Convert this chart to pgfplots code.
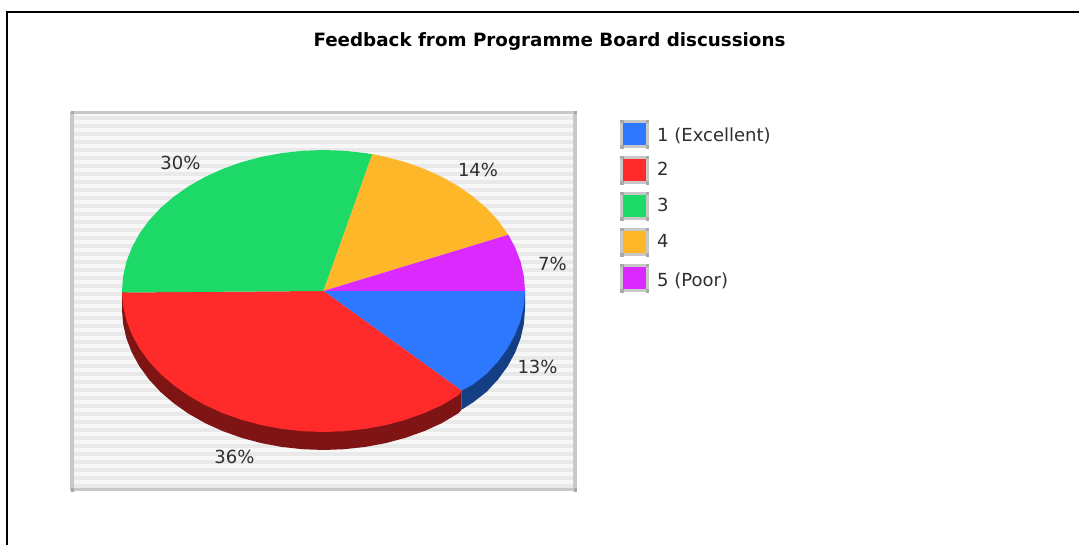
\documentclass[border=0pt]{standalone}
\usepackage{fontspec}
\setmainfont{DejaVu Sans}
\usepackage{pgfplots}
\pgfplotsset{compat=1.18}
\definecolor{cblue}{HTML}{2E78FF}
\definecolor{cred}{HTML}{FF2A2A}
\definecolor{cgreen}{HTML}{1DD968}
\definecolor{corange}{HTML}{FFB72A}
\definecolor{cmag}{HTML}{DA2AFF}
\definecolor{dblue}{HTML}{143F85}
\definecolor{dred}{HTML}{7E1414}
\definecolor{frameg}{HTML}{C8C8C8}
\definecolor{cornerg}{HTML}{A8A8A8}
\definecolor{stripe}{HTML}{E9E9E9}
\definecolor{bgs}{HTML}{F7F7F7}
\begin{document}
\begin{tikzpicture}
\path[use as bounding box] (0,0) rectangle (1079pt,545pt);
\begin{axis}[
  at={(0,0)},anchor=south west,
  width=1079pt,height=545pt,scale only axis,
  xmin=0,xmax=1079,ymin=0,ymax=545,y dir=reverse,
  axis lines=none,clip=true,unbounded coords=jump,
  every axis plot/.append style={line join=miter},
]
% page frame
\addplot[black,line width=2.2pt] coordinates {(7,545) (7,12) (1079,12)};
% plot background
\addplot[draw=none,fill=bgs] coordinates {(72,112) (575,112) (575,490) (72,490)} --cycle;
\addplot[stripe,line width=3.8pt] coordinates {
(72,118)(575,118)(72,nan)(72,126)(575,126)(72,nan)(72,134)(575,134)(72,nan)(72,142)(575,142)(72,nan)
(72,150)(575,150)(72,nan)(72,158)(575,158)(72,nan)(72,166)(575,166)(72,nan)(72,174)(575,174)(72,nan)
(72,182)(575,182)(72,nan)(72,190)(575,190)(72,nan)(72,198)(575,198)(72,nan)(72,206)(575,206)(72,nan)
(72,214)(575,214)(72,nan)(72,222)(575,222)(72,nan)(72,230)(575,230)(72,nan)(72,238)(575,238)(72,nan)
(72,246)(575,246)(72,nan)(72,254)(575,254)(72,nan)(72,262)(575,262)(72,nan)(72,270)(575,270)(72,nan)
(72,278)(575,278)(72,nan)(72,286)(575,286)(72,nan)(72,294)(575,294)(72,nan)(72,302)(575,302)(72,nan)
(72,310)(575,310)(72,nan)(72,318)(575,318)(72,nan)(72,326)(575,326)(72,nan)(72,334)(575,334)(72,nan)
(72,342)(575,342)(72,nan)(72,350)(575,350)(72,nan)(72,358)(575,358)(72,nan)(72,366)(575,366)(72,nan)
(72,374)(575,374)(72,nan)(72,382)(575,382)(72,nan)(72,390)(575,390)(72,nan)(72,398)(575,398)(72,nan)
(72,406)(575,406)(72,nan)(72,414)(575,414)(72,nan)(72,422)(575,422)(72,nan)(72,430)(575,430)(72,nan)
(72,438)(575,438)(72,nan)(72,446)(575,446)(72,nan)(72,454)(575,454)(72,nan)(72,462)(575,462)(72,nan)
(72,470)(575,470)(72,nan)(72,478)(575,478)(72,nan)(72,486)(575,486)};
\addplot[frameg,line width=3.3pt] coordinates {(72,112.5) (575,112.5) (575,489.5) (72,489.5) (72,112.5)};
\addplot[only marks,mark=square*,mark size=1.2pt,cornerg] coordinates {(72,112.5)(575,112.5)(575,489.5)(72,489.5)};
% pie sides (rim shifted by depth)
\addplot[draw=none,fill=dblue] coordinates {(525,291)(525,309)(523.9,323.7)(520.6,338.3)(515.1,352.6)(507.6,366.3)(498,379.5)(486.5,391.9)(473.2,402.3)(461.7,409.6)(461.7,390.6)} --cycle;
\addplot[draw=none,fill=dred] coordinates {(461.7,390.6)(461.7,409.6)(458.3,413.3)(441.9,423.1)(424.25,431.1)(405.5,437.8)(385.8,443.1)(365.4,446.9)(344.6,449.2)(323.5,450)(302.4,449.2)(281.6,446.9)(261.2,443.1)(241.5,437.8)(222.75,431.1)(205.1,423.1)(188.7,413.8)(173.8,403.3)(160.5,391.9)(149,379.5)(139.4,366.3)(131.9,352.6)(126.4,338.3)(123.1,323.7)(122,310)(122,291)} --cycle;
% pie top
\addplot[draw=none,fill=cblue] coordinates {(323.5,291)(525,291)(523.9,305.7)(520.6,320.3)(515.1,334.6)(507.6,348.3)(498,361.5)(486.5,373.9)(473.2,384.3)(461.7,390.6)} --cycle;
\addplot[draw=none,fill=cred] coordinates {(323.5,291)(461.7,390.6)(458.3,395.3)(441.9,405.1)(424.25,413.1)(405.5,419.8)(385.8,425.1)(365.4,428.9)(344.6,431.2)(323.5,432)(302.4,431.2)(281.6,428.9)(261.2,425.1)(241.5,419.8)(222.75,413.1)(205.1,405.1)(188.7,395.8)(173.8,385.3)(160.5,373.9)(149,361.5)(139.4,348.3)(131.9,334.6)(126.4,320.3)(123.1,305.7)(122,292.5)} --cycle;
\addplot[draw=none,fill=cgreen] coordinates {(323.5,291)(122,292.5)(122,291)(123.1,276.3)(126.4,261.7)(131.9,247.4)(139.4,233.7)(149,220.5)(160.5,208.1)(173.8,196.7)(188.7,186.2)(205.1,176.9)(222.75,168.9)(241.5,162.2)(261.2,156.9)(281.6,153.1)(302.4,150.8)(323.5,150)(344.6,150.8)(365.4,153.1)(372.3,154.2)} --cycle;
\addplot[draw=none,fill=corange] coordinates {(323.5,291)(372.3,154.2)(385.8,156.9)(405.5,162.2)(424.25,168.9)(441.9,176.9)(458.3,186.2)(473.2,196.7)(486.5,208.1)(498,220.5)(508.3,234.8)} --cycle;
\addplot[draw=none,fill=cmag] coordinates {(323.5,291)(508.3,234.8)(515.1,247.4)(520.6,261.7)(523.9,276.3)(525,291)} --cycle;
% legend swatches
\addplot[frameg,line width=3.3pt,fill=cblue] coordinates {(621.7,121.3)(647.3,121.3)(647.3,146.7)(621.7,146.7)} --cycle;
\addplot[frameg,line width=3.3pt,fill=cred] coordinates {(621.7,157.3)(647.3,157.3)(647.3,182.7)(621.7,182.7)} --cycle;
\addplot[frameg,line width=3.3pt,fill=cgreen] coordinates {(621.7,193.3)(647.3,193.3)(647.3,218.7)(621.7,218.7)} --cycle;
\addplot[frameg,line width=3.3pt,fill=corange] coordinates {(621.7,229.3)(647.3,229.3)(647.3,254.7)(621.7,254.7)} --cycle;
\addplot[frameg,line width=3.3pt,fill=cmag] coordinates {(621.7,265.3)(647.3,265.3)(647.3,290.7)(621.7,290.7)} --cycle;
\addplot[only marks,mark=square*,mark size=1.1pt,cornerg] coordinates {
(621.7,121.3)(647.3,121.3)(647.3,146.7)(621.7,146.7)
(621.7,157.3)(647.3,157.3)(647.3,182.7)(621.7,182.7)
(621.7,193.3)(647.3,193.3)(647.3,218.7)(621.7,218.7)
(621.7,229.3)(647.3,229.3)(647.3,254.7)(621.7,254.7)
(621.7,265.3)(647.3,265.3)(647.3,290.7)(621.7,290.7)};
% text
\tikzset{lab/.style={font=\fontsize{18}{20}\selectfont,text=black!82,inner sep=0pt}}
\node[font=\bfseries\fontsize{18.3}{22}\selectfont,text=black,inner sep=0pt] at (axis cs:549.5,41.5) {Feedback from Programme Board discussions};
\node[lab] at (axis cs:180.5,163) {30\%};
\node[lab] at (axis cs:478,170) {14\%};
\node[lab] at (axis cs:552.5,264) {7\%};
\node[lab] at (axis cs:537.5,367) {13\%};
\node[lab] at (axis cs:234.5,457) {36\%};
\node[lab,anchor=west] at (axis cs:657,136) {1 (Excellent)};
\node[lab,anchor=west] at (axis cs:657,169) {2};
\node[lab,anchor=west] at (axis cs:657,205) {3};
\node[lab,anchor=west] at (axis cs:657,241) {4};
\node[lab,anchor=west] at (axis cs:657,281) {5 (Poor)};
\end{axis}
\end{tikzpicture}
\end{document}
